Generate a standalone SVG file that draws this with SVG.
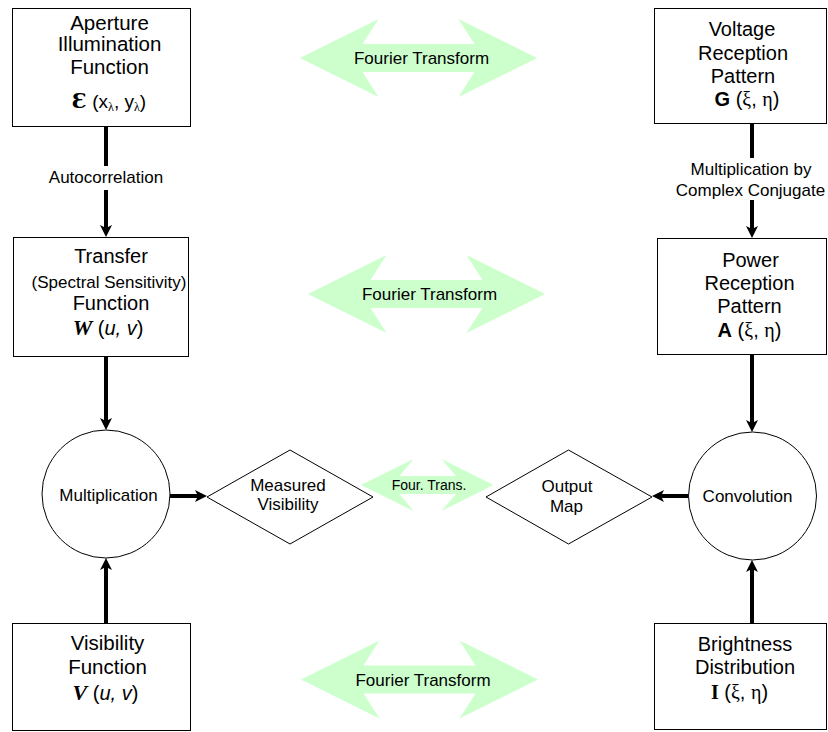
<svg xmlns="http://www.w3.org/2000/svg" width="828" height="732" viewBox="0 0 828 732">
<defs>
<marker id="ah" markerUnits="userSpaceOnUse" markerWidth="16" markerHeight="16" viewBox="-14 -8 16 16" refX="-8" refY="0" orient="auto"><path d="M0,0 L-12,-6 L-9,0 L-12,6 Z" fill="#000"/></marker>
</defs>
<style>
text{font-family:"Liberation Sans",Arial,sans-serif;fill:#000}
.box{fill:#fff;stroke:#000;stroke-width:1}
.t20{font-size:20.5px;text-anchor:middle}
.t20r{font-size:20px;text-anchor:middle}
.t17{font-size:17px;text-anchor:middle}
.ft{fill:#ccffcc;stroke:none}
.conn{stroke:#000;stroke-width:4;fill:none;marker-end:url(#ah)}
.sym{font-family:"Liberation Serif","DejaVu Serif",serif;font-weight:bold;font-style:italic}
.gr{font-family:"Liberation Serif","DejaVu Serif",serif}
</style>
<rect width="828" height="732" fill="#fff"/>

<g id="ft-top">
<polygon class="ft" points="300,58 378.5,19 362.5,44 474.5,44 458.5,19 537,58 458.5,97 474.5,72 362.5,72 378.5,97"/>
<text class="t17" x="421.5" y="64">Fourier Transform</text>
</g>
<g id="ft-mid">
<polygon class="ft" points="308,294 386.5,255 370.5,280 482.5,280 466.5,255 545,294 466.5,333 482.5,308 370.5,308 386.5,333"/>
<text class="t17" x="429.5" y="300">Fourier Transform</text>
</g>
<g id="ft-bot">
<polygon class="ft" points="301,679.5 379.5,640.5 363.5,665.5 475.5,665.5 459.5,640.5 538,679.5 459.5,718.5 475.5,693.5 363.5,693.5 379.5,718.5"/>
<text class="t17" x="423" y="685.5">Fourier Transform</text>
</g>
<g id="ft-small">
<polygon class="ft" points="361,485 413.5,459 399.5,476 456,476 441.5,459 493.5,485 441.5,511 456,494 399.5,494 413.5,511"/>
<text x="429" y="490" style="font-size:14px;text-anchor:middle">Four. Trans.</text>
</g>

<g id="connectors">
<line class="conn" x1="106" y1="126" x2="106" y2="229"/>
<line class="conn" x1="106" y1="356" x2="106" y2="422"/>
<line class="conn" x1="106" y1="623" x2="106" y2="566"/>
<line class="conn" x1="170" y1="496" x2="199" y2="496"/>
<line class="conn" x1="752" y1="123" x2="752" y2="230"/>
<line class="conn" x1="752" y1="354" x2="752" y2="424"/>
<line class="conn" x1="752" y1="623" x2="752" y2="568"/>
<line class="conn" x1="688" y1="496" x2="660" y2="496"/>
<rect x="44" y="166" width="124" height="24" fill="#fff"/>
<text class="t17" x="106" y="183">Autocorrelation</text>
<rect x="674" y="158" width="152" height="42" fill="#fff"/>
<text class="t17" x="751" y="175">Multiplication by</text>
<text class="t17" x="750.5" y="195.5">Complex Conjugate</text>
</g>

<g id="aperture">
<rect class="box" x="12.5" y="8.5" width="178" height="118"/>
<text class="t20" x="109.5" y="29.5">Aperture</text>
<text class="t20" x="109.5" y="51">Illumination</text>
<text class="t20" x="109.5" y="74">Function</text>
<text x="109" y="108" style="text-anchor:middle;font-size:19px"><tspan style="font-family:'DejaVu Serif',serif;font-weight:bold;font-size:21px">Ɛ</tspan> (x<tspan dy="3" style="font-size:12px" class="gr">λ</tspan><tspan dy="-3">, y</tspan><tspan dy="3" style="font-size:12px" class="gr">λ</tspan><tspan dy="-3">)</tspan></text>
</g>

<g id="voltage">
<rect class="box" x="654.5" y="8.5" width="172" height="115"/>
<text class="t20r" x="742" y="36">Voltage</text>
<text class="t20r" x="743" y="59.5">Reception</text>
<text class="t20r" x="743" y="82.5">Pattern</text>
<text class="t20r" x="747" y="106"><tspan font-weight="bold">G</tspan> (<tspan class="gr">ξ</tspan>, <tspan class="gr">η</tspan>)</text>
</g>

<g id="transfer">
<rect class="box" x="13.5" y="237.5" width="175" height="119"/>
<text class="t20r" x="111" y="263">Transfer</text>
<text class="t17" x="109" y="288">(Spectral Sensitivity)</text>
<text class="t20r" x="111" y="309.5">Function</text>
<text x="108" y="335" style="text-anchor:middle;font-size:20px"><tspan class="sym" style="font-size:22px">W</tspan> (<tspan font-style="italic">u, v</tspan>)</text>
</g>

<g id="power">
<rect class="box" x="657.5" y="238.5" width="169" height="116"/>
<text class="t20r" x="750.5" y="266.5">Power</text>
<text class="t20r" x="749.5" y="289.5">Reception</text>
<text class="t20r" x="749.5" y="312.5">Pattern</text>
<text class="t20r" x="749.5" y="336.5"><tspan font-weight="bold">A</tspan> (<tspan class="gr">ξ</tspan>, <tspan class="gr">η</tspan>)</text>
</g>

<g id="multiplication">
<circle cx="106" cy="494" r="64" fill="#fff" stroke="#000" stroke-width="1"/>
<text class="t17" x="108.5" y="500.5">Multiplication</text>
</g>

<g id="measured-visibility">
<polygon points="207,497 290,450 373,497 290,544" fill="#fff" stroke="#000" stroke-width="1"/>
<text class="t17" x="288" y="491">Measured</text>
<text class="t17" x="288" y="510">Visibility</text>
</g>

<g id="output-map">
<polygon points="486,497 568.5,450 652,497 568.5,544" fill="#fff" stroke="#000" stroke-width="1"/>
<text class="t17" x="567" y="491.5">Output</text>
<text class="t17" x="566.5" y="511.5">Map</text>
</g>

<g id="convolution">
<circle cx="752.5" cy="496" r="64" fill="#fff" stroke="#000" stroke-width="1"/>
<text class="t17" x="747.5" y="501.5">Convolution</text>
</g>

<g id="visibility">
<rect class="box" x="12.5" y="623.5" width="178" height="107"/>
<text class="t20" x="107.5" y="649.5">Visibility</text>
<text class="t20" x="107.5" y="674">Function</text>
<text x="105.5" y="700" style="text-anchor:middle;font-size:20px"><tspan class="sym" style="font-size:22px">V</tspan> (<tspan font-style="italic">u, v</tspan>)</text>
</g>

<g id="brightness">
<rect class="box" x="654.5" y="623.5" width="172" height="106"/>
<text class="t20r" x="745" y="651">Brightness</text>
<text class="t20r" x="745" y="674">Distribution</text>
<text class="t20r" x="739.5" y="699"><tspan class="gr" font-weight="bold">I</tspan> (<tspan class="gr">ξ</tspan>, <tspan class="gr">η</tspan>)</text>
</g>
</svg>
